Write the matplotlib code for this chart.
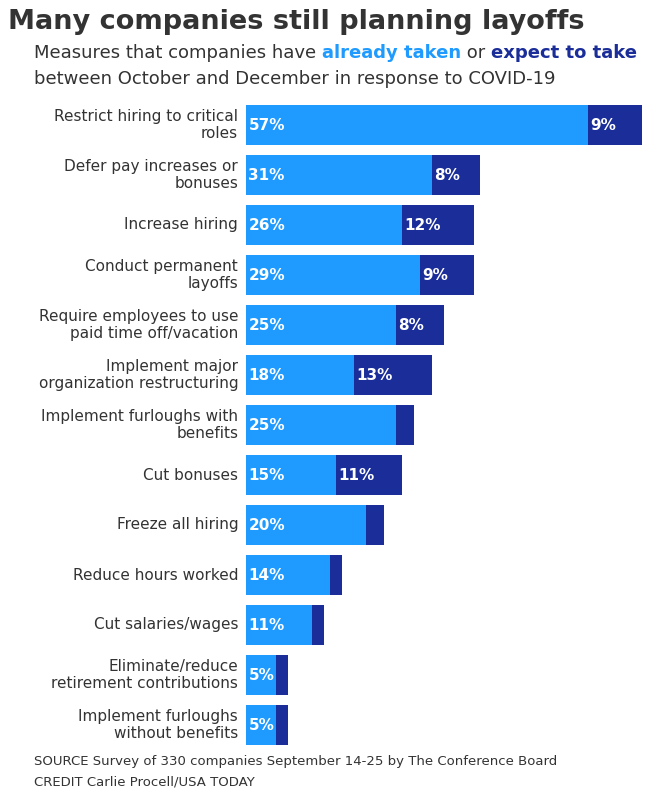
import matplotlib
matplotlib.use('Agg')
import matplotlib.pyplot as plt
import numpy as np

categories = ["Restrict hiring to critical\nroles", "Defer pay increases or\nbonuses", "Increase hiring",
              "Conduct permanent\nlayoffs", "Require employees to use\npaid time off/vacation",
              "Implement major\norganization restructuring", "Implement furloughs with\nbenefits",
              "Cut bonuses", "Freeze all hiring", "Reduce hours worked", "Cut salaries/wages",
              "Eliminate/reduce\nretirement contributions", "Implement furloughs\nwithout benefits"]
taken = [57, 31, 26, 29, 25, 18, 25, 15, 20, 14, 11, 5, 5]
expect = [9, 8, 12, 9, 8, 13, 3, 11, 3, 2, 2, 2, 2]
show_expect = [True, True, True, True, True, True, False, True, False, False, False, False, False]

LIGHT = '#1f9bff'
DARK = '#1a2d99'
W, H = 663, 796
fig = plt.figure(figsize=(W / 100, H / 100), dpi=100)
ax = fig.add_axes([246 / W, 1 - 750 / H, 396 / W, 650 / H])
y = np.arange(len(categories))
ax.barh(y, taken, height=0.8, color=LIGHT)
ax.barh(y, expect, left=taken, height=0.8, color=DARK)
for i in range(len(categories)):
    ax.text(0.4, y[i], f"{taken[i]}%", color='white', fontsize=11, fontweight='bold', va='center', ha='left')
    if show_expect[i]:
        ax.text(taken[i] + 0.4, y[i], f"{expect[i]}%", color='white', fontsize=11, fontweight='bold',
                va='center', ha='left')
    ax.text(-1.3, y[i], categories[i], ha='right', va='center', fontsize=11, color='#333333', linespacing=1.1)
ax.set_xlim(0, 66)
ax.set_ylim(len(categories) - 0.5, -0.5)
ax.axis('off')

fig.text(8 / W, 1 - 22 / H, "Many companies still planning layoffs", fontsize=19.5, fontweight='bold',
         color='#333333', va='center')
fig.canvas.draw()
r = fig.canvas.get_renderer()
parts = [("Measures that companies have ", '#333333', 'normal'), ("already taken", LIGHT, 'bold'),
         (" or ", '#333333', 'normal'), ("expect to take", DARK, 'bold')]
x = 34 / W
for s, c, w in parts:
    t = fig.text(x, 1 - 53 / H, s, fontsize=13, color=c, fontweight=w, va='center')
    x += t.get_window_extent(r).width / W
fig.text(34 / W, 1 - 79 / H, "between October and December in response to COVID-19", fontsize=13,
         color='#333333', va='center')
fig.text(34 / W, 1 - 762 / H, "SOURCE Survey of 330 companies September 14-25 by The Conference Board",
         fontsize=9.5, color='#333333', va='center')
fig.text(34 / W, 1 - 782 / H, "CREDIT Carlie Procell/USA TODAY", fontsize=9.5, color='#333333', va='center')
fig.savefig('out.png', dpi=100)
